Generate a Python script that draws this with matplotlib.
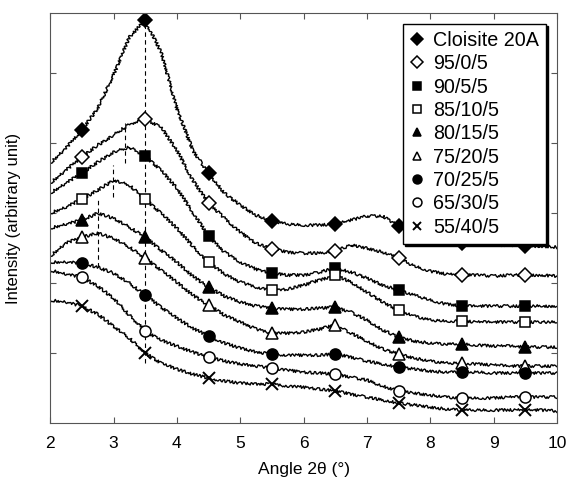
import matplotlib.pyplot as plt
import numpy as np

plt.rcParams["font.family"] = ["Liberation Sans", "DejaVu Sans"]

# 2-theta grid (deg)
angle = np.array([2.0, 2.25, 2.5, 2.75, 3.0, 3.25, 3.5, 3.75, 4.0, 4.25, 4.5,
                  4.75, 5.0, 5.25, 5.5, 5.75, 6.0, 6.25, 6.5, 6.75, 7.0, 7.25,
                  7.5, 7.75, 8.0, 8.25, 8.5, 8.75, 9.0, 9.25, 9.5, 9.75, 10.0])

# intensity, arbitrary units, curves already offset as in the figure
cloisite = [26.0, 27.5, 29.3, 31.5, 34.8, 38.6, 40.3, 37.1, 31.5, 27.3, 25.0,
            23.0, 21.8, 20.8, 20.2, 19.9, 19.8, 19.8, 19.9, 20.3, 20.7, 20.7,
            19.7, 18.9, 18.4, 18.2, 18.0, 17.9, 17.8, 17.8, 17.7, 17.7, 17.6]
s95_0_5 = [24.0, 25.3, 26.6, 27.8, 28.8, 29.9, 30.4, 29.6, 27.3, 24.3, 22.0,
           20.5, 19.1, 18.0, 17.4, 17.1, 17.0, 17.0, 17.2, 17.8, 17.5, 17.1,
           16.5, 15.7, 15.2, 14.9, 14.8, 14.8, 14.7, 14.8, 14.8, 14.8, 14.7]
s90_5_5 = [23.0, 24.0, 25.0, 26.1, 27.1, 27.6, 26.7, 25.3, 23.5, 21.1, 18.7,
           17.1, 16.1, 15.4, 15.0, 14.8, 14.8, 15.1, 15.5, 15.1, 14.5, 13.8,
           13.3, 12.8, 12.3, 11.9, 11.7, 11.7, 11.7, 11.7, 11.7, 11.7, 11.7]
s85_10_5 = [21.0, 21.6, 22.4, 23.3, 24.3, 23.8, 22.4, 21.0, 19.5, 17.7, 16.1,
            14.9, 14.1, 13.6, 13.3, 13.4, 13.8, 14.3, 14.8, 14.1, 13.1, 12.1,
            11.3, 10.7, 10.3, 10.2, 10.2, 10.1, 10.1, 10.1, 10.1, 10.1, 10.1]
s80_15_5 = [19.5, 19.9, 20.3, 21.0, 20.5, 19.6, 18.6, 17.3, 16.1, 14.7, 13.6,
            12.7, 12.1, 11.7, 11.5, 11.4, 11.4, 11.5, 11.6, 11.1, 10.3, 9.3,
            8.6, 8.2, 8.0, 7.9, 7.9, 7.8, 7.7, 7.7, 7.6, 7.6, 7.6]
s75_20_5 = [16.7, 18.0, 18.6, 19.0, 18.5, 17.6, 16.5, 15.3, 14.1, 12.8, 11.8,
            10.8, 10.1, 9.4, 9.0, 9.0, 9.1, 9.4, 9.8, 9.0, 8.2, 7.4,
            6.9, 6.5, 6.2, 6.0, 6.0, 5.9, 5.8, 5.7, 5.7, 5.7, 5.7]
s70_25_5 = [16.1, 16.1, 16.0, 15.6, 15.0, 14.0, 12.8, 11.6, 10.5, 9.5, 8.7,
            8.0, 7.5, 7.1, 6.9, 6.8, 6.8, 6.8, 6.9, 6.6, 6.2, 5.9,
            5.6, 5.4, 5.2, 5.1, 5.1, 5.1, 5.0, 5.0, 5.0, 5.0, 5.0]
s65_30_5 = [15.3, 14.9, 14.6, 13.7, 12.5, 10.8, 9.2, 8.3, 7.7, 7.1, 6.6,
            6.2, 5.9, 5.7, 5.5, 5.3, 5.1, 5.0, 4.9, 4.6, 4.3, 3.7,
            3.2, 3.0, 2.8, 2.6, 2.5, 2.5, 2.5, 2.6, 2.6, 2.6, 2.6]
s55_40_5 = [12.3, 12.1, 11.7, 10.9, 9.7, 8.5, 7.0, 6.0, 5.4, 4.9, 4.5,
            4.2, 4.0, 3.9, 3.9, 3.7, 3.6, 3.4, 3.2, 2.9, 2.6, 2.3,
            2.0, 1.8, 1.6, 1.4, 1.3, 1.3, 1.3, 1.3, 1.3, 1.3, 1.2]

labels = ["Cloisite 20A", "95/0/5", "90/5/5", "85/10/5", "80/15/5",
          "75/20/5", "70/25/5", "65/30/5", "55/40/5"]
curves = [cloisite, s95_0_5, s90_5_5, s85_10_5, s80_15_5,
          s75_20_5, s70_25_5, s65_30_5, s55_40_5]

# dashed guides at the basal peaks
peak_pos = [3.5, 3.18, 2.99, 2.76]
peak_top = [40.8, 30.0, 25.8, 22.5]
peak_bottom = [6.0, 26.0, 22.6, 15.6]

styles = [("D", "k"), ("D", "w"), ("s", "k"), ("s", "w"), ("^", "k"),
          ("^", "w"), ("o", "k"), ("o", "w"), ("x", "k")]

fig = plt.figure(figsize=(5.7, 4.88), dpi=100)
ax = fig.add_axes([0.088, 0.133, 0.889, 0.840])

ax.vlines(peak_pos, peak_bottom, peak_top, colors="k", linestyles=(0, (4, 3)),
          linewidth=0.8)

mark = slice(2, None, 4)  # markers at 2.5, 3.5, ..., 9.5
for y, lab, (m, fc) in zip(curves, labels, styles):
    y = np.asarray(y)
    ln, = ax.plot(angle, y, color="k", lw=1.0)
    ln.set_sketch_params(scale=1.4, length=2.5, randomness=3)
    ms = 7.5 if m in "Ds" else 8
    ax.plot(angle[mark], y[mark], ls="none", marker=m, ms=ms, mfc=fc,
            mec="k", mew=1.1 if m != "x" else 1.4, label=lab)

ax.set_xlim(2, 10)
ax.set_ylim(0, 41)
ax.set_xticks(range(2, 11))
ax.set_yticks([7, 14, 21, 28, 35])
ax.set_yticklabels([])
ax.tick_params(direction="in", top=True, right=True, length=4, width=0.8,
               labelsize=12.5, pad=9, color="#555555")
for s in ax.spines.values():
    s.set_color("#555555")
    s.set_linewidth(0.8)

ax.set_xlabel("Angle 2θ (°)", fontsize=12.5, labelpad=8)
ax.set_ylabel("Intensity (arbitrary unit)", fontsize=12, labelpad=12)

leg = ax.legend(loc="upper right", fontsize=14.2, frameon=True, fancybox=False,
                edgecolor="k", framealpha=1, handlelength=0.8, markerscale=0.8,
                handletextpad=0.4, labelspacing=0.22, borderaxespad=0.55,
                borderpad=0.35, shadow={"color": "k", "alpha": 1,
                                        "ox": 1.5, "oy": -1.5})
leg.get_frame().set_linewidth(1.0)

fig.savefig("out.png", dpi=100)
